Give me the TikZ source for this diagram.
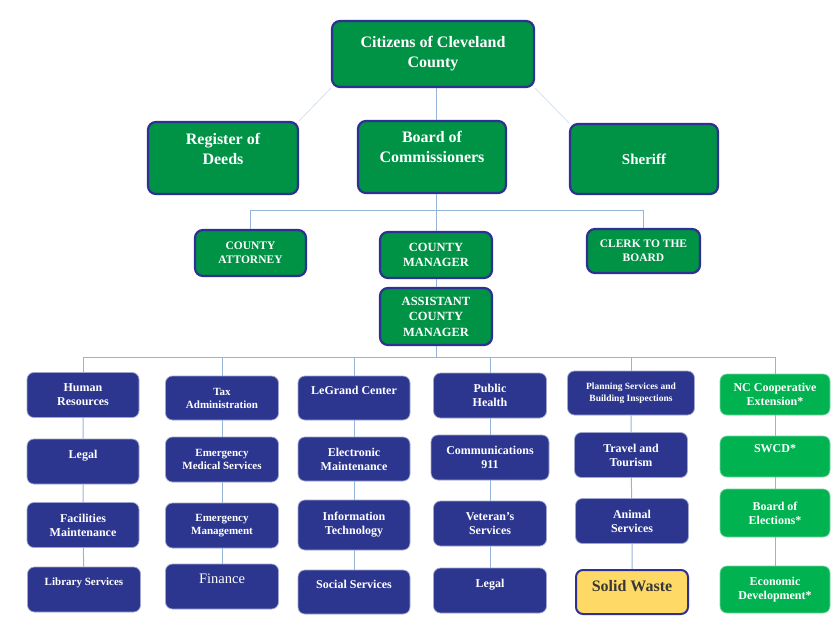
\documentclass[tikz,border=0pt]{standalone}
\usepackage{fontspec}
\setmainfont{Liberation Serif}

\definecolor{cgreen}{RGB}{0,146,69}
\definecolor{cnavy}{RGB}{46,49,146}
\definecolor{cblue}{RGB}{45,54,143}
\definecolor{clgreen}{RGB}{0,178,80}
\definecolor{cyellow}{RGB}{255,217,102}
\definecolor{clink}{RGB}{150,180,215}

\begin{document}
\begin{tikzpicture}[x=1pt,y=-1pt,
  box/.style={rounded corners=8pt,align=center,text=white,inner sep=2pt},
  sz/.style 2 args={minimum width=#1pt,minimum height=#2pt},
  lift/.style={text depth=#1},
  top/.style={box,fill=cgreen,draw=cnavy,line width=2.2pt,font=\bfseries\fontsize{16}{20}\selectfont},
  mid/.style={box,fill=cgreen,draw=cnavy,line width=2.2pt,font=\bfseries\fontsize{11.5}{14}\selectfont},
  dept/.style={box,rounded corners=7pt,fill=cblue,draw=cblue!45!white,line width=0.7pt,font=\bfseries\fontsize{12}{14}\selectfont},
  ext/.style={dept,fill=clgreen,draw=clgreen!55!white},
  waste/.style={box,rounded corners=7pt,fill=cyellow,draw=cnavy,line width=2pt,text=black!78,font=\bfseries\fontsize{16}{19}\selectfont},
  link/.style={draw=clink,line width=1pt},
  faint/.style={draw=clink!40,line width=0.8pt}]
\useasboundingbox (0,0) rectangle (839,637);

% top rows
\node[top,sz={202}{66}] (cit) at (433,54) {Citizens of Cleveland\\County};
\node[top,sz={150}{72},lift=18pt] (reg) at (223,158) {Register of\\Deeds};
\node[top,sz={148}{72},lift=21pt] (boc) at (432,157) {Board of\\Commissioners};
\node[top,sz={148}{70},font=\bfseries\fontsize{15}{18}\selectfont] (sher) at (644,159) {Sheriff};

\node[mid,sz={111}{46}] (catt) at (250.5,253) {COUNTY\\ATTORNEY};
\node[mid,sz={112}{46},font=\bfseries\fontsize{12.5}{15.5}\selectfont] (cm) at (436,255) {COUNTY\\MANAGER};
\node[mid,sz={113}{44}] (clerk) at (643.5,251) {CLERK TO THE\\BOARD};
\node[mid,sz={112}{57},font=\bfseries\fontsize{12.5}{15.5}\selectfont] (acm) at (436,316.5) {ASSISTANT\\COUNTY\\MANAGER};

% departments
\node[dept,sz={112}{45}] (hr) at (83,395) {Human\\Resources};
\node[dept,sz={112}{45},lift=15pt] (legA) at (83,461.5) {Legal};
\node[dept,sz={112}{45}] (fac) at (83,525) {Facilities\\Maintenance};
\node[dept,sz={113}{45},lift=15pt,font=\bfseries\fontsize{11}{13}\selectfont] (lib) at (84,589.5) {Library Services};

\node[dept,sz={113}{44},font=\bfseries\fontsize{11}{13}\selectfont] (tax) at (222,398) {Tax\\Administration};
\node[dept,sz={113}{45},font=\bfseries\fontsize{11}{13}\selectfont] (ems) at (222,459.5) {Emergency\\Medical Services};
\node[dept,sz={113}{45},font=\bfseries\fontsize{11}{13}\selectfont] (emg) at (222,525.5) {Emergency\\Management};
\node[dept,sz={113}{45},lift=15pt,font=\fontsize{14.5}{17}\selectfont] (fin) at (222,586.5) {Finance};

\node[dept,sz={112}{44},lift=15pt] (lgc) at (354,398) {LeGrand Center};
\node[dept,sz={112}{44}] (elec) at (354,459) {Electronic\\Maintenance};
\node[dept,sz={112}{50}] (it) at (354,525) {Information\\Technology};
\node[dept,sz={112}{44},lift=15pt] (soc) at (354,592) {Social Services};

\node[dept,sz={113}{45}] (ph) at (490,395.5) {Public\\Health};
\node[dept,sz={118}{45}] (comm) at (490,457.5) {Communications\\911};
\node[dept,sz={113}{45}] (vet) at (490,523.5) {Veteran’s\\Services};
\node[dept,sz={113}{45},lift=15pt] (legB) at (490,590.5) {Legal};

\node[dept,sz={127}{44},font=\bfseries\fontsize{9.5}{12}\selectfont] (plan) at (631,393) {Planning Services and\\Building Inspections};
\node[dept,sz={113}{45}] (trav) at (631,455) {Travel and\\Tourism};
\node[dept,sz={113}{45}] (anim) at (632,521) {Animal\\Services};
\node[waste,sz={112}{44},lift=12pt] (sw) at (632,592) {Solid Waste};

\node[ext,sz={110}{41}] (nce) at (775,394.5) {NC Cooperative\\Extension*};
\node[ext,sz={110}{41},lift=15pt] (swcd) at (775,456.5) {SWCD*};
\node[ext,sz={110}{48}] (boe) at (775,513) {Board of\\Elections*};
\node[ext,sz={110}{47}] (econ) at (775,589.5) {Economic\\Development*};

% connectors
\coordinate (row) at (436,210);
\coordinate (bus) at (436,357);
\draw[faint] (cit.south west) -- (reg.north east);
\draw[faint] (cit.south east) -- (sher.north west);
\draw[link] (cit.south -| cm.north) -- (boc.north -| cm.north);
\draw[link] (boc.south -| cm.north) -- (cm.north);
\draw[link] (catt.north) |- (row);
\draw[link] (clerk.north) |- (row);
\draw[link] (cm) -- (acm);
\draw[link] (acm.south) -- (bus);
\foreach \n in {hr,tax,lgc,ph,plan,nce}
  \draw[link] (\n.north) |- (bus);
\draw[link] (hr) -- (legA) -- (fac) -- (lib);
\draw[link] (tax) -- (ems) -- (emg) -- (fin);
\draw[link] (lgc) -- (elec) -- (it) -- (soc);
\draw[link] (ph) -- (comm) -- (vet) -- (legB);
\draw[link] (plan) -- (trav) -- (anim) -- (sw);
\draw[link] (nce) -- (swcd) -- (boe) -- (econ);
\end{tikzpicture}
\end{document}
